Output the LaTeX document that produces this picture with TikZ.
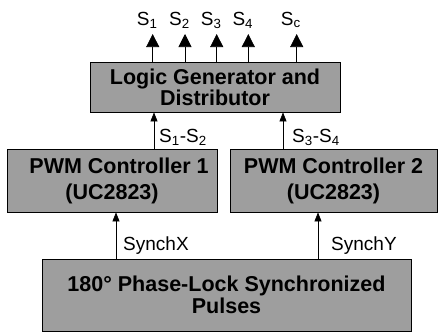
\documentclass[tikz,border=0pt]{standalone}
\usepackage{fontspec}
\setmainfont{Liberation Sans}
\usetikzlibrary{arrows.meta}
\begin{document}
\begin{tikzpicture}[x=1pt,y=-1pt,
  blk/.style={draw=black, line width=0.8pt, fill=black!38, font=\bfseries\fontsize{21.5}{22}\selectfont, align=center, inner sep=0pt},
  conn/.style={line width=0.7pt, -{Triangle[width=7pt,length=9pt]}},
  outconn/.style={line width=0.7pt, -{Triangle[width=13pt,length=13pt]}},
  lbl/.style={font=\fontsize{19}{20}\selectfont, inner sep=0pt}]
\useasboundingbox (0,0) rectangle (438,335);
\node[blk, minimum width=250pt, minimum height=50pt] (lg) at (215,87) {Logic Generator and\\[-1pt]Distributor};
\node[blk, minimum width=210pt, minimum height=63pt] (p1) at (112,180.5) {\hspace*{14pt}PWM Controller 1\\[4pt](UC2823)};
\node[blk, minimum width=207pt, minimum height=63pt] (p2) at (333.5,180.5) {PWM Controller 2\\[4pt](UC2823)};
\node[blk, minimum width=369pt, minimum height=72pt] (ph) at (226.5,295) {180° Phase-Lock Synchronized\\[0pt]Pulses};
% outputs
\foreach \x/\t/\n in {152.7/1/a,185/2/b,216.7/3/c,248.3/4/d,296.7/c/e}{
  \coordinate (o\n) at (\x,34);
  \draw[outconn] (lg.north -| o\n) -- (o\n);
  \node[lbl, anchor=base west] at (\x-16,25) {S\textsubscript{\t}};
}
% middle
\coordinate (m1) at (154,112);
\coordinate (m2) at (283,112);
\draw[conn] (p1.north -| m1) -- (lg.south -| m1);
\draw[conn] (p2.north -| m2) -- (lg.south -| m2);
\node[lbl, anchor=base west] at (159,142) {S\textsubscript{1}-S\textsubscript{2}};
\node[lbl, anchor=base west] at (292,142) {S\textsubscript{3}-S\textsubscript{4}};
% bottom
\coordinate (b1) at (116,212);
\coordinate (b2) at (318,212);
\draw[conn] (ph.north -| b1) -- (p1.south -| b1);
\draw[conn] (ph.north -| b2) -- (p2.south -| b2);
\node[lbl, anchor=base west] at (123,250) {SynchX};
\node[lbl, anchor=base west] at (331,250) {SynchY};
\end{tikzpicture}
\end{document}
